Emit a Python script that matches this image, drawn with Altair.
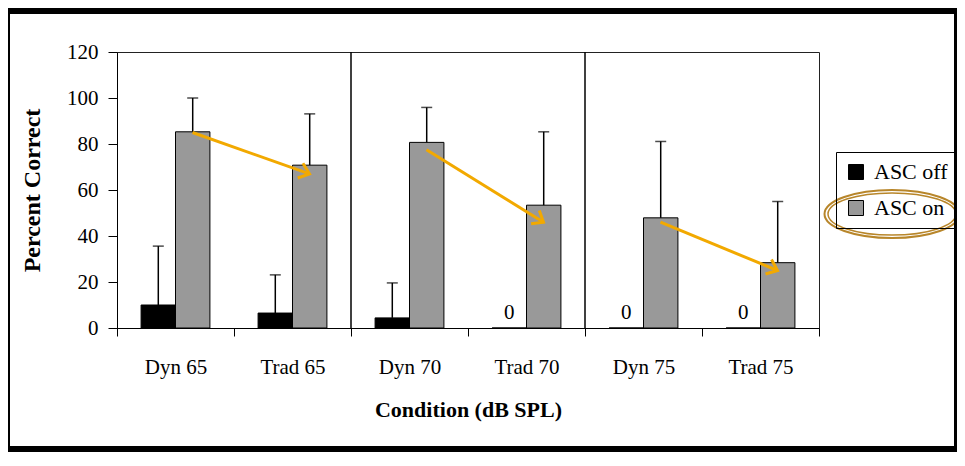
import math
import altair as alt
import pandas as pd

# ---------------- data ----------------
conditions = ["Dyn 65", "Trad 65", "Dyn 70", "Trad 70", "Dyn 75", "Trad 75"]
series = ["ASC off", "ASC on"]
off_mean = [10.0, 6.5, 4.4, 0.0, 0.0, 0.0]
off_upper = [35.6, 23.1, 19.6, None, None, None]
on_mean = [85.3, 70.8, 80.7, 53.4, 47.9, 28.4]
on_upper = [100.0, 93.1, 95.9, 85.3, 81.1, 55.0]
y_ticks = [0, 20, 40, 60, 80, 100, 120]
arrow_from = ["Dyn 65", "Dyn 70", "Dyn 75"]
arrow_to = ["Trad 65", "Trad 70", "Trad 75"]
arrow_start = [85.0, 77.5, 46.0]
arrow_end = [67.0, 46.0, 25.0]
dividers = ["Dyn 70", "Dyn 75"]

# ---------------- layout / style ----------------
W, H = 702, 276
Y_MAX = 120
FONT = "Liberation Serif"
ORANGE = "#F2A900"
GOLD = "#B8862A"
GRAY = "#999999"
BAR_HALF = 17
PAD = {"left": 109, "top": 44, "right": 138, "bottom": 124}
RIGHT = W + PAD["right"]
BOTTOM = H + PAD["bottom"]

rows = []
for i, c in enumerate(conditions):
    rows.append({"cond": c, "series": "ASC off", "value": off_mean[i], "upper": off_upper[i]})
    rows.append({"cond": c, "series": "ASC on", "value": on_mean[i], "upper": on_upper[i]})
bars = pd.DataFrame(rows)
err = bars.dropna(subset=["upper"]).copy()
zeros = bars[(bars["value"] == 0)].copy()
zeros["label"] = "0"

band = W / len(conditions)
ppu = H / Y_MAX
arrows = pd.DataFrame({"from": arrow_from, "to": arrow_to,
                       "y1": arrow_start, "y2": arrow_end})
arrows["angle"] = [math.degrees(math.atan2((a - b) * ppu, band))
                   for a, b in zip(arrow_start, arrow_end)]
div_df = pd.DataFrame({"cond": dividers, "lo": [0] * len(dividers),
                       "hi": [Y_MAX] * len(dividers)})
one = pd.DataFrame({"k": [0]})

x_scale = alt.Scale(domain=conditions, paddingInner=0, paddingOuter=0)
x_axis = alt.Axis(tickBand="extent", labelAngle=0, tickSize=8, labelPadding=20,
                  labelFontSize=21, titleFontSize=22, titleFontWeight="bold",
                  titlePadding=22, grid=False)
y_scale = alt.Scale(domain=[0, Y_MAX], nice=False)
y_axis = alt.Axis(values=y_ticks, tickSize=9, labelPadding=10, labelFontSize=21,
                  titleFontSize=24, titleFontWeight="bold", titlePadding=22,
                  grid=False)
XT = "Condition (dB SPL)"
YT = "Percent Correct"

def X(field="cond:N", **kw):
    return alt.X(field, scale=x_scale, axis=x_axis, title=XT, **kw)

def Y(field):
    return alt.Y(field, scale=y_scale, axis=y_axis, title=YT)

xoff = alt.XOffset("series:N", scale=alt.Scale(domain=series, paddingInner=0,
                                                paddingOuter=0.7))

bar_layer = alt.Chart(bars).mark_bar(stroke="black", strokeWidth=1).encode(
    x=X(), xOffset=xoff, y=Y("value:Q"),
    color=alt.Color("series:N", scale=alt.Scale(domain=series, range=["#000000", GRAY]),
                    legend=alt.Legend(orient="none", legendX=719, legendY=100, title=None,
                                      padding=9, strokeColor="black",
                                      symbolType="square", symbolSize=225,
                                      symbolStrokeColor="black", symbolStrokeWidth=1,
                                      labelFont=FONT, labelFontSize=22, labelColor="black",
                                      rowPadding=14, labelOffset=7, cornerRadius=0)),
)

err_rule = alt.Chart(err).mark_rule(color="black", strokeWidth=1.5).encode(
    x=X(), xOffset=xoff, y=Y("value:Q"), y2="upper:Q")
err_cap = alt.Chart(err).mark_tick(color="black", thickness=1.5, size=11).encode(
    x=X(), xOffset=xoff, y=Y("upper:Q"))

zero_text = alt.Chart(zeros).mark_text(font=FONT, fontSize=21, color="black",
                                       baseline="alphabetic", dy=-9).encode(
    x=X(), xOffset=xoff, y=Y("value:Q"), text="label:N")

div_layer = alt.Chart(div_df).mark_rule(color="black", strokeWidth=1.5).encode(
    x=X("cond:N", bandPosition=0), y=Y("lo:Q"), y2="hi:Q")

arrow_line = alt.Chart(arrows).mark_rule(color=ORANGE, strokeWidth=3,
                                         xOffset=BAR_HALF, x2Offset=BAR_HALF).encode(
    x=X("from:N"), x2="to:N", y=Y("y1:Q"), y2="y2:Q")
arrow_head = alt.Chart(arrows).mark_point(shape="M -1 -0.8 L 0 0 L -1 0.8", filled=False,
                                          stroke=ORANGE, strokeWidth=3, size=380,
                                          opacity=1, xOffset=BAR_HALF).encode(
    x=X("to:N"), y=Y("y2:Q"), angle=alt.Angle("angle:Q", scale=None))

ell_outer = alt.Chart(one).mark_point(
    shape="M -1 0 A 1 0.356 0 1 0 1 0 A 1 0.356 0 1 0 -1 0",
    filled=False, stroke=GOLD, strokeWidth=2, size=135 ** 2, opacity=1).encode(
    x=alt.value(775), y=alt.value(162))
ell_inner = alt.Chart(one).mark_point(
    shape="M -1 0 A 1 0.33 0 1 0 1 0 A 1 0.33 0 1 0 -1 0",
    filled=False, stroke=GOLD, strokeWidth=1.5, size=128 ** 2, opacity=1).encode(
    x=alt.value(775), y=alt.value(162))

def frame_rect(x1, x2, y1, y2):
    return alt.Chart(one).mark_rect(color="black").encode(
        x=alt.value(x1), x2=alt.value(x2), y=alt.value(y1), y2=alt.value(y2))

L, T = -PAD["left"], -PAD["top"]
frame = [
    frame_rect(L, L + 2, T, BOTTOM),
    frame_rect(L, RIGHT, T, T + 6),
    frame_rect(RIGHT - 3, RIGHT, T, BOTTOM),
    frame_rect(L, RIGHT, BOTTOM - 6, BOTTOM),
]

chart = alt.layer(
    bar_layer, err_rule, err_cap, zero_text, div_layer, arrow_line, arrow_head,
    ell_outer, ell_inner, *frame
).properties(
    width=W, height=H,
    autosize=alt.AutoSizeParams(type="none"),
    padding=PAD,
    background="white",
).configure_view(stroke="#222222", strokeWidth=1).configure_axis(
    labelFont=FONT, titleFont=FONT, labelColor="black", titleColor="black",
    domainColor="black", tickColor="black", domainWidth=1, tickWidth=1,
).configure_text(font=FONT)

chart.save("out.html", embed_options={"renderer": "svg", "actions": False})
